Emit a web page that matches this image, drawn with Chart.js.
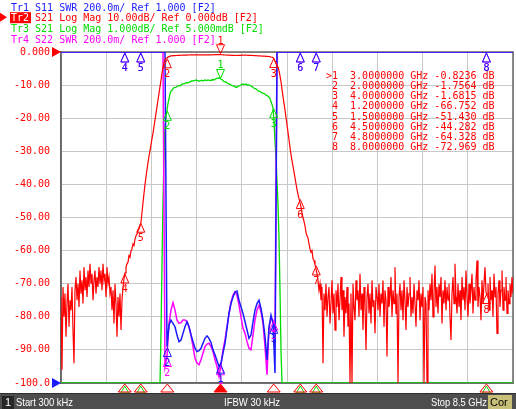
<!DOCTYPE html>
<html>
<head>
<meta charset="utf-8">
<script src="https://cdn.jsdelivr.net/npm/chart.js@4.4.1/dist/chart.umd.min.js"></script>
<style>
  html, body { margin: 0; padding: 0; background: #fff; overflow: hidden; }
  canvas { display: block; }
</style>
</head>
<body>
<canvas id="vna" width="516" height="409"></canvas>
<script>
// sweep settings (GHz)
const START_GHZ = 0.0003;
const STOP_GHZ = 8.5;

// S21 log mag (dB), one value per sweep point (453 points)
const s21Db = [
  // low stopband
  -74, -96, -71, -80, -73, -86, -76, -70, -83, -75, -78, -71, -84, -94, -72,
  -68, -75, -70, -77, -66, -73, -69, -76, -65, -72, -68, -74, -66, -71, -64,
  -70, -67, -75, -69, -66, -73, -68, -71, -65, -70,
  -66, -72, -64, -69, -67, -74, -65, -70, -68, -73,
  -71, -78, -72, -82, -70, -76, -86, -74, -80, -73, -84, -75, -71, -68.5,
  // lower skirt
  -66.75, -65, -64, -63.5, -61.5, -62, -60, -59.5, -58, -58.5, -56.5, -55.5, -55, -54, -53.5, -52.5, -51.4,
  -48.5, -45.5, -42.7, -40, -37.7, -35.5, -33.4, -31.5, -29.8, -28, -26.2, -24.5, -22.5,
  -20.5, -18.5, -16.5, -14.5, -12.5, -10.5, -8.5, -6.4, -4.5, -3.2, -2.3, -1.95,
  // passband
  -1.76, -1.55, -1.4, -1.26, -1.17, -1.15, -1.1, -1.07, -1.07, -1.06,
  -1.04, -1.01, -1.01, -1.02, -0.99, -0.96, -0.96, -0.96, -0.94, -0.92,
  -0.93, -0.93, -0.91, -0.89, -0.88, -0.86, -0.87, -0.87, -0.85, -0.84,
  -0.86, -0.86, -0.88, -0.87, -0.85, -0.85, -0.87, -0.86, -0.84, -0.85,
  -0.86, -0.84, -0.84, -0.86, -0.85, -0.83, -0.83, -0.84, -0.82, -0.8,
  -0.79, -0.79, -0.77, -0.78, -0.82, -0.83, -0.86, -0.89, -0.9, -0.9,
  -0.93, -0.95, -0.96, -0.97, -0.99, -1.01, -1.02, -1.02, -1.04, -1.06,
  -1.06, -1.03, -1.02, -1.01, -0.99, -0.97, -0.97, -0.98, -0.97, -0.96,
  -0.98, -1.0, -0.99, -1.0, -1.02, -1.04, -1.06, -1.09, -1.1, -1.11,
  -1.14, -1.17, -1.18, -1.19, -1.21, -1.23, -1.24, -1.25, -1.27, -1.3,
  -1.31, -1.33, -1.36, -1.4, -1.5, -1.58, -1.68,
  // upper skirt
  -2.1, -2.7, -3.2, -3.9, -4.6, -5.6, -7.2, -9, -11.2, -13.5, -15.5,
  -17.5, -19.8, -22, -24.3, -26.5, -28.8, -31, -32.8, -34.5, -36.2, -38,
  -39.8, -41.5, -43, -44.3, -45.5, -46.8, -48.5, -50, -51.2, -52.5, -54.5,
  -55.5, -56.2, -58, -59.5, -60.5, -60, -62.5, -63, -64.2, -65.5, -67,
  // high stopband
  -69, -72, -70, -75, -71, -94, -73, -78, -70, -80,
  -74, -71, -82, -76, -69, -79, -73, -84, -72, -77,
  -70, -81, -75, -68, -78, -72, -86, -74, -79, -71,
  -83, -76, -100, -73, -100, -70, -77, -81, -69, -75,
  -72, -80, -67, -78, -73, -84, -71, -76, -90, -74,
  -70, -79, -73, -82, -69, -77, -75, -85, -71, -74,
  -78, -70, -80, -73, -76, -69, -83, -72, -75, -92,
  -71, -77, -74, -68, -80, -72, -76, -65, -79, -73,
  -100, -74, -70, -78, -72, -81, -69, -75, -84, -71,
  -77, -73, -68, -80, -74, -79, -70, -76, -83, -72,
  -75, -69, -81, -73, -77, -71, -100, -74, -76, -100,
  -72, -78, -70, -75, -67, -80, -73, -64.5, -77, -71,
  -79, -70, -74, -68, -82, -72, -76, -69, -78, -71,
  -75, -70, -80, -87, -73, -68, -76, -64, -74, -79,
  -70, -77, -72, -81, -68, -75, -71, -78, -66, -74,
  -80, -70, -76, -72, -67, -79, -71, -75, -69, -63,
  -77, -71, -74, -81, -69, -76, -70, -65, -72.5, -73.4,
  -70, -78, -68, -75, -72, -80, -67, -74, -71, -85,
  -73, -69, -77, -72, -66, -78, -71, -75, -68, -79,
  -72, -76, -70, -74, -68, -73
];

// SWR traces use a 227 point sweep; values below cover the band only,
// every other point is over range (pinned at the top of the grid)
const SWR_POINTS = 227;
const S11_FIRST = 53;
const s11Swr = [
  1.22, 1.35, 1.38, 1.36, 1.34, 1.29, 1.25, 1.26, 1.30, 1.34,
  1.37, 1.34, 1.29, 1.25, 1.21, 1.19, 1.195, 1.21, 1.24, 1.27,
  1.285, 1.27, 1.245, 1.20, 1.17, 1.135, 1.10, 1.12, 1.18, 1.24,
  1.33, 1.42, 1.48, 1.52, 1.55, 1.555, 1.50, 1.46, 1.42, 1.37,
  1.32, 1.27, 1.29, 1.37, 1.44, 1.48, 1.50, 1.45, 1.38, 1.28,
  1.14, 1.34, 1.41, 1.36, 1.06
];
const S22_FIRST = 52;
const s22Swr = [
  1.10, 1.16, 1.36, 1.44, 1.485, 1.44, 1.38, 1.36, 1.365, 1.38,
  1.38, 1.37, 1.34, 1.29, 1.22, 1.15, 1.12, 1.11, 1.14, 1.18,
  1.22, 1.235, 1.24, 1.22, 1.19, 1.14, 1.10, 1.04, 1.11, 1.20,
  1.26, 1.34, 1.42, 1.49, 1.53, 1.55, 1.53, 1.47, 1.40, 1.33,
  1.30, 1.25, 1.21, 1.20, 1.29, 1.38, 1.44, 1.47, 1.43, 1.36,
  1.22, 1.05, 1.33, 1.39, 1.38, 1.30
];

// markers (Tr2)
const markerGhz = [3, 2, 4, 1.2, 1.5, 4.5, 4.8, 8];
const markerDb = [-0.8236, -1.7564, -1.6815, -66.752, -51.430, -44.282, -64.328, -72.969];

// y tick labels of the active trace
const dbTicks = [0, -10, -20, -30, -40, -50, -60, -70, -80, -90, -100];
const dbTickLabels = ["0.000", "-10.00", "-20.00", "-30.00", "-40.00", "-50.00",
  "-60.00", "-70.00", "-80.00", "-90.00", "-100.0"];

const headerLines = [
  { text: "Tr1 S11 SWR 200.0m/ Ref 1.000 [F2]", color: "#1a1aff" },
  { text: "Tr2 S21 Log Mag 10.00dB/ Ref 0.000dB [F2]", color: "#ff0000" },
  { text: "Tr3 S21 Log Mag 1.000dB/ Ref 5.000mdB [F2]", color: "#00dd00" },
  { text: "Tr4 S22 SWR 200.0m/ Ref 1.000 [F2]", color: "#ff00ff" }
];

const RED = "#ff0000", GREEN = "#00dd00", BLUE = "#1a1aff", MAGENTA = "#ff00ff";
const GREEN_MIN = -9.995, GREEN_MAX = 0.005;
const SWR_MIN = 1, SWR_MAX = 3;
const MONO = "'DejaVu Sans Mono', 'Liberation Mono', monospace";

const sweep = (n) => Array.from({ length: n }, (_, i) => START_GHZ + i * (STOP_GHZ - START_GHZ) / (n - 1));
const s21Ghz = sweep(s21Db.length);
const swrGhz = sweep(SWR_POINTS);
const swrStep = (STOP_GHZ - START_GHZ) / (SWR_POINTS - 1);
const clamp = (v, lo, hi) => Math.min(hi, Math.max(lo, v));

function swrAt(arr, first, i) {
  const k = i - first;
  if (k < 0 || k >= arr.length) return SWR_MAX;
  return clamp(arr[k], SWR_MIN, SWR_MAX);
}

const redData = s21Ghz.map((f, i) => ({ x: f, y: clamp(s21Db[i], -100, 0) }));
const greenData = s21Ghz.map((f, i) => ({ x: f, y: clamp(s21Db[i], GREEN_MIN, GREEN_MAX) }));
const blueData = swrGhz.map((f, i) => ({ x: f, y: swrAt(s11Swr, S11_FIRST, i) }));
const magentaData = swrGhz.map((f, i) => ({ x: f, y: swrAt(s22Swr, S22_FIRST, i) }));

function triUp(ctx, x, y, color) {
  ctx.beginPath();
  ctx.moveTo(x, y);
  ctx.lineTo(x - 4, y + 9);
  ctx.lineTo(x + 4, y + 9);
  ctx.closePath();
  ctx.strokeStyle = color;
  ctx.lineWidth = 1;
  ctx.stroke();
}

function triDown(ctx, x, y, color) {
  ctx.beginPath();
  ctx.moveTo(x, y);
  ctx.lineTo(x - 4, y - 9);
  ctx.lineTo(x + 4, y - 9);
  ctx.closePath();
  ctx.strokeStyle = color;
  ctx.lineWidth = 1;
  ctx.stroke();
}

function label(ctx, txt, x, y, color) {
  ctx.fillStyle = color;
  ctx.font = "10px " + MONO;
  ctx.textAlign = "center";
  ctx.textBaseline = "alphabetic";
  ctx.fillText(txt, x, y);
}

const vnaDecor = {
  id: "vnaDecor",
  beforeDatasetsDraw(chart) {
    const { ctx, chartArea: a } = chart;
    ctx.save();
    ctx.strokeStyle = "#666";
    ctx.lineWidth = 1.5;
    ctx.strokeRect(a.left, a.top, a.right - a.left, a.bottom - a.top);
    ctx.restore();
  },
  afterDraw(chart) {
    const { ctx, chartArea: a, scales } = chart;
    const xs = scales.x, yr = scales.y, yg = scales.yG, ys = scales.yS;
    ctx.save();

    // header lines
    ctx.font = "10px " + MONO;
    ctx.textBaseline = "alphabetic";
    ctx.textAlign = "left";
    headerLines.forEach((h, r) => {
      const base = 10.5 + r * 10.7;
      if (r === 1) {
        ctx.fillStyle = RED;
        ctx.fillRect(10, base - 9, 21, 11);
        ctx.beginPath();
        ctx.moveTo(0, base - 8.5);
        ctx.lineTo(7, base - 4);
        ctx.lineTo(0, base + 0.5);
        ctx.closePath();
        ctx.fill();
        ctx.fillStyle = "#fff";
        ctx.fillText(h.text.slice(0, 3), 11, base);
        ctx.fillStyle = h.color;
        ctx.fillText(h.text.slice(3), 11 + ctx.measureText("Tr2").width, base);
      } else {
        ctx.fillStyle = h.color;
        ctx.fillText(h.text, 11, base);
      }
    });

    // reference position arrows
    ctx.fillStyle = RED;
    ctx.beginPath();
    ctx.moveTo(52, a.top - 5); ctx.lineTo(61, a.top); ctx.lineTo(52, a.top + 5);
    ctx.closePath(); ctx.fill();
    ctx.fillStyle = BLUE;
    ctx.beginPath();
    ctx.moveTo(52, a.bottom - 5); ctx.lineTo(61, a.bottom); ctx.lineTo(52, a.bottom + 5);
    ctx.closePath(); ctx.fill();

    // marker table
    ctx.font = "10px " + MONO;
    ctx.textAlign = "left";
    ctx.fillStyle = RED;
    markerGhz.forEach((f, k) => {
      const v = markerDb[k];
      const vs = Math.abs(v) < 1 ? v.toFixed(4) : v.toPrecision(5);
      const txt = (k === 0 ? ">" : " ") + (k + 1) + "  " + f.toFixed(7) + " GHz " + vs + " dB";
      ctx.fillText(txt, 326, 78.5 + k * 10.25);
    });

    // SWR trace markers (magenta under blue)
    [[s22Swr, S22_FIRST, MAGENTA], [s11Swr, S11_FIRST, BLUE]].forEach(([arr, first, col]) => {
      markerGhz.forEach((f, k) => {
        const i = Math.round((f - START_GHZ) / swrStep);
        const x = xs.getPixelForValue(f);
        const y = ys.getPixelForValue(swrAt(arr, first, i));
        triUp(ctx, x, y + 1, col);
        label(ctx, String(k + 1), x, y + 19, col);
      });
    });

    // green trace markers (on screen only)
    markerGhz.forEach((f, k) => {
      const v = markerDb[k];
      if (v < GREEN_MIN) return;
      const x = xs.getPixelForValue(f);
      const y = yg.getPixelForValue(v);
      if (k === 0) {
        triDown(ctx, x, y - 1, GREEN);
        label(ctx, "1", x, y - 11, GREEN);
      } else {
        triUp(ctx, x, y + 1, GREEN);
        label(ctx, String(k + 1), x, y + 19, GREEN);
      }
    });

    // red trace markers
    markerGhz.forEach((f, k) => {
      const x = xs.getPixelForValue(f);
      const y = yr.getPixelForValue(markerDb[k]);
      if (k === 0) {
        triDown(ctx, x, y - 1, RED);
        label(ctx, "1", x, y - 11, RED);
      } else {
        triUp(ctx, x, y + 1, RED);
        label(ctx, String(k + 1), x, y + 19, RED);
      }
    });

    // marker positions under the grid
    markerGhz.forEach((f, k) => {
      const x = xs.getPixelForValue(f);
      if (markerDb[k] < GREEN_MIN) {
        ctx.beginPath();
        ctx.moveTo(x, a.bottom + 3); ctx.lineTo(x - 4, a.bottom + 10); ctx.lineTo(x + 4, a.bottom + 10);
        ctx.closePath();
        ctx.strokeStyle = GREEN; ctx.lineWidth = 1; ctx.stroke();
      }
      ctx.beginPath();
      ctx.moveTo(x, a.bottom + 1); ctx.lineTo(x - 6.5, a.bottom + 9); ctx.lineTo(x + 6.5, a.bottom + 9);
      ctx.closePath();
      ctx.strokeStyle = RED; ctx.lineWidth = 1;
      if (k === 0) { ctx.fillStyle = RED; ctx.fill(); }
      ctx.stroke();
    });

    // status bar
    const H = chart.height, W = chart.width;
    ctx.fillStyle = "#2e2e2e";
    ctx.fillRect(0, H - 16, W, 16);
    ctx.fillStyle = "#4e4e4e";
    ctx.fillRect(0, H - 15, W, 15);
    ctx.fillStyle = "#262626";
    ctx.fillRect(2, H - 13, 12, 13);
    ctx.fillStyle = "#c8c078";
    ctx.fillRect(488, H - 14, 24, 14);
    ctx.font = "11px 'Liberation Sans', Arial, sans-serif";
    ctx.textBaseline = "alphabetic";
    ctx.fillStyle = "#fff";
    ctx.textAlign = "center";
    ctx.fillText("1", 8, H - 3);
    ctx.textAlign = "left";
    ctx.fillText("Start 300 kHz", 16, H - 3, 57);
    ctx.fillText("IFBW 30 kHz", 224, H - 3, 56);
    ctx.fillText("Stop 8.5 GHz", 431, H - 3, 56);
    ctx.fillStyle = "#000";
    ctx.fillText("Cor", 490, H - 3, 20);
    ctx.restore();
  }
};

const line = (data, color, yAxisID, width) => ({
  data, yAxisID, borderColor: color, borderWidth: width,
  pointRadius: 0, tension: 0, fill: false
});

new Chart(document.getElementById("vna").getContext("2d"), {
  type: "line",
  data: {
    datasets: [
      line(redData, RED, "y", 1.2),
      line(blueData, BLUE, "yS", 1.5),
      line(magentaData, MAGENTA, "yS", 1.5),
      line(greenData, GREEN, "yG", 1.3)
    ]
  },
  options: {
    responsive: false,
    animation: false,
    events: [],
    layout: { padding: { left: 0, top: 52, right: 3, bottom: 26 } },
    plugins: { legend: { display: false }, tooltip: { enabled: false } },
    scales: {
      x: {
        type: "linear",
        min: START_GHZ,
        max: STOP_GHZ,
        afterBuildTicks(scale) {
          const t = [];
          for (let i = 0; i <= 10; i++) t.push({ value: START_GHZ + i * (STOP_GHZ - START_GHZ) / 10 });
          scale.ticks = t;
        },
        afterFit(scale) { scale.height = 0; },
        ticks: { display: false },
        grid: { color: "#c8c8c8", drawTicks: false },
        border: { color: "#666", width: 1.5 }
      },
      y: {
        position: "left",
        min: -100,
        max: 0,
        afterBuildTicks(scale) { scale.ticks = dbTicks.map(v => ({ value: v })); },
        afterFit(scale) { scale.width = 61; },
        ticks: {
          color: RED,
          padding: 11,
          font: { family: MONO, size: 10 },
          callback: (v) => dbTickLabels[dbTicks.indexOf(v)]
        },
        grid: { color: "#c8c8c8", drawTicks: false },
        border: { color: "#666", width: 1.5 }
      },
      yG: { display: false, min: GREEN_MIN, max: GREEN_MAX },
      yS: { display: false, min: SWR_MIN, max: SWR_MAX }
    }
  },
  plugins: [vnaDecor]
});
</script>
</body>
</html>
